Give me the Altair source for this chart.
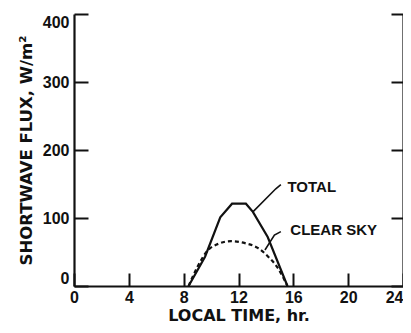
import altair as alt
import pandas as pd

# ---- data ----
total_hours = [8.36, 9.56, 10.67, 11.53, 12.54, 13.05, 14.13, 15.57]
total_flux = [0, 43, 101, 121, 121, 109, 72, 0]

clear_hours = [8.36, 9.0, 9.66, 10.52, 11.46, 12.47, 13.4, 14.27, 14.85, 15.57]
clear_flux = [0, 28, 50, 62, 66, 63, 56, 41, 27, 0]

leader_total_hours = [13.05, 14.72, 15.09]
leader_total_flux = [109, 143, 149]
leader_clear_hours = [13.93, 14.62, 15.09]
leader_clear_flux = [53, 75, 80]

label_text = ["TOTAL", "CLEAR SKY"]
label_hours = [15.57, 15.78]
label_flux = [146, 82]

x_ticks = [0, 4, 8, 12, 16, 20, 24]
y_ticks = [0, 100, 200, 300, 400]

W, H = 329, 272
INK = "#111111"
LABEL_FONT = "Liberation Sans"
TITLE_FONT = "DejaVu Sans"

total_df = pd.DataFrame({"h": total_hours, "f": total_flux})
clear_df = pd.DataFrame({"h": clear_hours, "f": clear_flux})
leader_df = pd.DataFrame({
    "h": leader_total_hours + leader_clear_hours,
    "f": leader_total_flux + leader_clear_flux,
    "g": ["total"] * len(leader_total_hours) + ["clear"] * len(leader_clear_hours),
    "o": list(range(len(leader_total_hours))) + list(range(len(leader_clear_hours))),
})
label_df = pd.DataFrame({"h": label_hours, "f": label_flux, "t": label_text})

xs = alt.Scale(domain=[0, 24], nice=False, zero=False)
ys = alt.Scale(domain=[0, 400], nice=False)

# Layer 1: total curve, labelled bottom and left axes (no ticks)
total = alt.Chart(total_df).mark_line(color=INK, strokeWidth=2.2).encode(
    x=alt.X("h:Q", scale=xs, axis=alt.Axis(
        orient="bottom", values=x_ticks, ticks=False, grid=False,
        domain=True, domainColor=INK, domainWidth=2.2,
        labelFont=LABEL_FONT, labelFontSize=16, labelFontWeight="bold",
        labelColor=INK, labelPadding=3, labelFlush=False,
        labelAlign=alt.expr("datum.value == 24 ? 'right' : 'center'"),
        title="LOCAL TIME, hr.", titleFont=TITLE_FONT, titleFontSize=16,
        titleFontWeight="bold", titleColor=INK, titlePadding=2)),
    y=alt.Y("f:Q", scale=ys, axis=alt.Axis(
        orient="left", values=y_ticks, ticks=False, grid=False,
        domain=True, domainColor=INK, domainWidth=2.2,
        labelFont=LABEL_FONT, labelFontSize=16, labelFontWeight="bold",
        labelColor=INK, labelPadding=5, labelFlush=True, labelFlushOffset=0,
        title="SHORTWAVE FLUX, W/m²", titleFont=TITLE_FONT, titleFontSize=16.5,
        titleFontWeight="bold", titleColor=INK, titlePadding=8)),
)

# Layer 2: clear sky curve, inward ticks at bottom and left edges
clear = alt.Chart(clear_df).mark_line(
    color=INK, strokeWidth=2.2, strokeDash=[4, 3], interpolate="monotone"
).encode(
    x=alt.X("h:Q", scale=xs, title=None, axis=alt.Axis(
        orient="top", offset=-H, values=x_ticks, ticks=True, tickSize=13,
        tickWidth=2, tickColor=INK, labels=False, domain=False, grid=False)),
    y=alt.Y("f:Q", scale=ys, title=None, axis=alt.Axis(
        orient="right", offset=-W, values=y_ticks, ticks=True, tickSize=14,
        tickWidth=2, tickColor=INK, labels=False, domain=False, grid=False)),
)

# Layer 3: leader lines, right frame line with inward ticks
leaders = alt.Chart(leader_df).mark_line(color=INK, strokeWidth=1.6).encode(
    x=alt.X("h:Q", scale=xs, axis=None),
    y=alt.Y("f:Q", scale=ys, title=None, axis=alt.Axis(
        orient="left", offset=-W, values=y_ticks, ticks=True, tickSize=12,
        tickWidth=2, tickColor=INK, labels=False, domain=True,
        domainColor=INK, domainWidth=2.2, grid=False)),
    detail="g:N",
    order="o:Q",
)

# Layer 4: curve labels
labels = alt.Chart(label_df).mark_text(
    align="left", baseline="middle", font=LABEL_FONT, fontSize=15,
    fontWeight="bold", color=INK
).encode(
    x=alt.X("h:Q", scale=xs, axis=None),
    y=alt.Y("f:Q", scale=ys, axis=None),
    text="t:N",
)

chart = alt.layer(total, clear, leaders, labels).resolve_axis(
    x="independent", y="independent"
).properties(
    width=W, height=H,
    autosize=alt.AutoSizeParams(type="none"),
    padding={"left": 66, "top": 6, "right": 0, "bottom": 39},
    background="white",
).configure_view(stroke=None)

chart.save("out.html", embed_options={"renderer": "svg", "actions": False})
